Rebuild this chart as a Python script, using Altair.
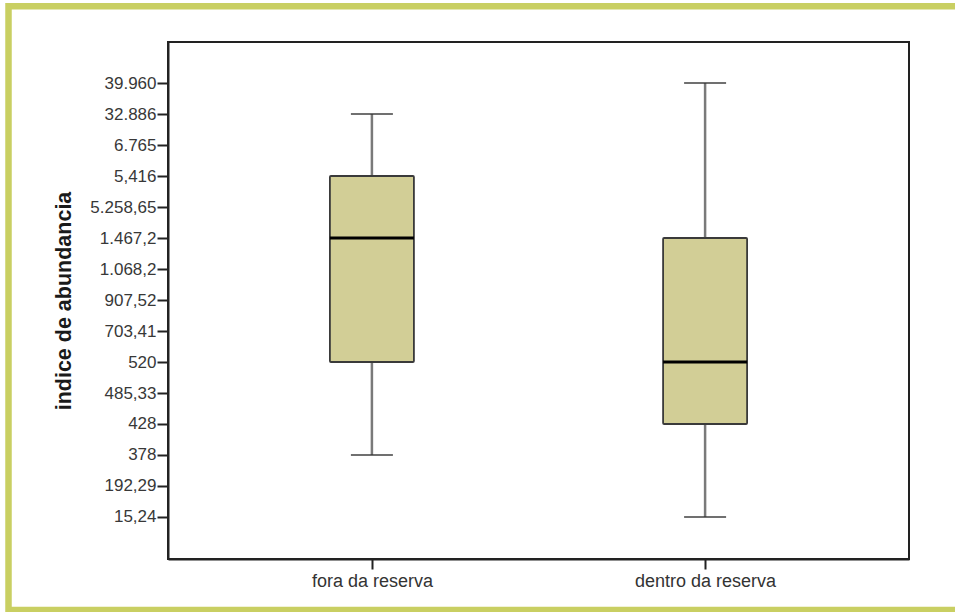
import json
import altair as alt
import pandas as pd

# Ordered category labels of the abundance index (bottom to top of the axis)
y_labels = ["15,24", "192,29", "378", "428", "485,33", "520", "703,41",
            "907,52", "1.068,2", "1.467,2", "5.258,65", "5,416", "6.765",
            "32.886", "39.960"]

groups = ["fora da reserva", "dentro da reserva"]
whisker_low = ["378", "15,24"]
q1 = ["520", "428"]
median = ["1.467,2", "520"]
q3 = ["5,416", "1.467,2"]
whisker_high = ["32.886", "39.960"]


def pos(v):
    return y_labels.index(v)


df = pd.DataFrame({
    "grupo": groups,
    "lo": [pos(v) for v in whisker_low],
    "q1": [pos(v) for v in q1],
    "med": [pos(v) for v in median],
    "q3": [pos(v) for v in q3],
    "hi": [pos(v) for v in whisker_high],
})

W, H = 741, 517
label_expr = json.dumps(y_labels) + "[datum.value]"

x_scale = alt.Scale(type="point", padding=0.612)
x_axis = alt.Axis(labelAngle=0, labelFontSize=18, labelColor="#333333",
                  labelFont="Liberation Sans", tickSize=10, tickWidth=2,
                  tickColor="#222222", domainColor="#222222",
                  domainWidth=2, labelPadding=3)

y_scale = alt.Scale(domain=[-1.355, 15.323], nice=False, zero=False)
y_axis = alt.Axis(values=list(range(len(y_labels))), labelExpr=label_expr,
                  labelOverlap=False, labelBound=False,
                  title="indice de abundancia", titleFontSize=21.5,
                  titleFont="Liberation Sans", titleFontWeight="bold",
                  titleColor="#1a1a1a", titlePadding=14,
                  labelFontSize=17, labelFont="Liberation Sans",
                  labelColor="#383838", labelPadding=1, tickSize=11,
                  tickWidth=2, tickColor="#222222", domainColor="#222222",
                  domainWidth=2, grid=False)


def X():
    return alt.X("grupo:N", sort=groups, title=None, scale=x_scale, axis=x_axis)


def Y(field):
    return alt.Y(f"{field}:Q", title="indice de abundancia",
                 scale=y_scale, axis=y_axis)


base = alt.Chart(df)

whisker = base.mark_rule(color="#7a7a7a", strokeWidth=2.5).encode(
    x=X(), y=Y("lo"), y2="hi:Q")

caps_lo = base.mark_tick(color="#333333", size=42, thickness=2).encode(
    x=X(), y=Y("lo"))
caps_hi = base.mark_tick(color="#333333", size=42, thickness=2).encode(
    x=X(), y=Y("hi"))

box = base.mark_bar(size=84, fill="#D2CE96", stroke="#3a3a3a",
                    strokeWidth=1.8, cornerRadius=1).encode(
    x=X(), y=Y("q1"), y2="q3:Q")

med = base.mark_tick(color="#000000", size=84, thickness=3, opacity=1).encode(
    x=X(), y=Y("med"))

# Decorative outer frame around the figure
frame = alt.Chart(pd.DataFrame({"f": [0]})).mark_rect(
    fill=None, stroke="#C9CF62", strokeWidth=6.5).encode(
    x=alt.value(-159.5), x2=alt.value(805),
    y=alt.value(-35.7), y2=alt.value(568))

chart = alt.layer(frame, whisker, caps_lo, caps_hi, box, med).properties(
    width=W, height=H,
    autosize=alt.AutoSizeParams(type="none"),
    padding={"left": 168, "top": 42, "right": 46, "bottom": 53},
    background="white",
).configure_view(stroke="#222222", strokeWidth=2)

chart.save("out.html", embed_options={"renderer": "svg", "actions": False})
